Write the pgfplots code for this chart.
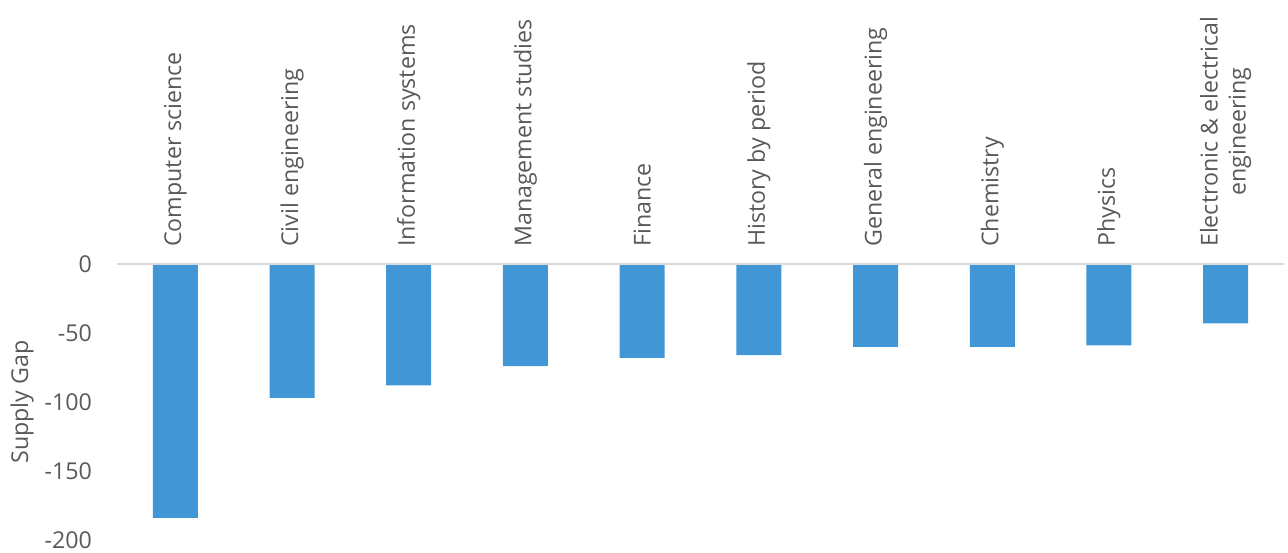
\documentclass[border=0pt]{standalone}
\usepackage{fontspec}
\setmainfont{Open Sans}
\usepackage{pgfplots}
\pgfplotsset{compat=1.18}
\definecolor{barblue}{RGB}{65,151,213}
\definecolor{txtgray}{RGB}{89,89,89}
\definecolor{zerogray}{RGB}{217,217,217}
\begin{document}
\begin{tikzpicture}
\begin{axis}[
  at={(0,0)}, anchor=south west,
  scale only axis, width=1167pt, height=276pt,
  xmin=-0.5, xmax=9.5, ymin=-200, ymax=0,
  ytick={-200,-150,-100,-50,0},
  xtick={0,1,2,3,4,5,6,7,8,9},
  xticklabels={Computer science, Civil engineering, Information systems, Management studies, Finance, History by period, General engineering, Chemistry, Physics, {Electronic \& electrical\\engineering}},
  xticklabel pos=upper,
  axis line style={draw=none},
  major tick length=0pt,
  tick label style={font=\fontsize{23.2}{28}\selectfont, text=txtgray},
  xticklabel style={rotate=90, anchor=west, align=center, inner xsep=17pt, inner ysep=0pt},
  yticklabel style={anchor=east, inner sep=0pt, xshift=-25pt},
  /pgf/number format/assume math mode=true,
  ylabel={Supply Gap},
  every axis y label/.style={at={(axis description cs:0,0.5)}, xshift=-95pt, rotate=90, anchor=center, font=\fontsize{23.2}{28}\selectfont, text=txtgray},
  ybar, bar width=45pt,
  clip=false,
]
\addplot[fill=barblue, draw=none, bar shift=0pt] coordinates {
  (0,-184) (1,-97) (2,-88) (3,-74) (4,-68) (5,-66) (6,-60) (7,-60) (8,-59) (9,-43)
};
\draw[zerogray, line width=1.5pt] (axis cs:-0.5,0) -- (axis cs:9.5,0);
\end{axis}
\pgfresetboundingbox
\path (-117pt,-12pt) rectangle (1171pt,540pt);
\end{tikzpicture}
\end{document}
